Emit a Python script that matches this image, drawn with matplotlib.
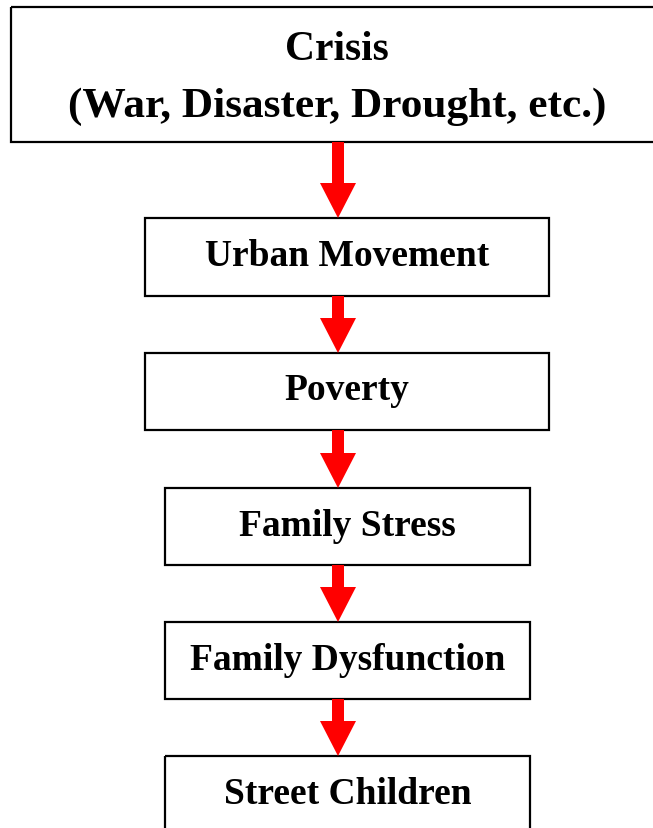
# Flowchart: from crisis to street children
import matplotlib
matplotlib.use("Agg")
import matplotlib.pyplot as plt
from matplotlib.patches import Rectangle, Polygon

# Box labels, top to bottom
labels = ["Crisis\n(War, Disaster, Drought, etc.)",
          "Urban Movement",
          "Poverty",
          "Family Stress",
          "Family Dysfunction",
          "Street Children"]

# Layout in pixels (left, right, top, bottom)
box_left = [11, 145, 145, 165, 165, 165]
box_right = [663, 549, 549, 530, 530, 530]
box_top = [8, 219, 354, 489, 623, 757]
box_bottom = [143, 297, 431, 566, 700, 835]
font_sizes = [30, 27, 27, 27, 27, 27]

arrow_x = 338
shaft_w = 12
head_w = 36
head_len = 35

W, H = 653, 829
fig = plt.figure(figsize=(W / 100, H / 100), dpi=100)
ax = fig.add_axes([0, 0, 1, 1])
ax.set_xlim(0, W)
ax.set_ylim(H, 0)
ax.axis("off")

for i, lab in enumerate(labels):
    l, r, t, b = box_left[i], box_right[i], box_top[i], box_bottom[i]
    ax.add_patch(Rectangle((l, t), r - l, b - t, fill=False,
                           edgecolor="black", linewidth=1.6, clip_on=False))
    cx = (l + r) / 2
    if i == 0:
        # two-line title box
        line1, line2 = lab.split("\n")
        ax.text(cx, 60, line1, ha="center", va="baseline",
                fontsize=font_sizes[i], fontweight="bold",
                family="Liberation Serif")
        ax.text(cx, 117, line2, ha="center", va="baseline",
                fontsize=font_sizes[i] + 1.2, fontweight="bold",
                family="Liberation Serif")
    else:
        cy = (t + b) / 2
        ax.text(cx, cy + 8, lab, ha="center", va="baseline",
                fontsize=font_sizes[i], fontweight="bold",
                family="Liberation Serif")

# red arrows between boxes
for i in range(len(labels) - 1):
    y0 = box_bottom[i]
    y1 = box_top[i + 1]
    yh = y1 - head_len
    pts = [(arrow_x - shaft_w / 2, y0), (arrow_x + shaft_w / 2, y0),
           (arrow_x + shaft_w / 2, yh), (arrow_x + head_w / 2, yh),
           (arrow_x, y1), (arrow_x - head_w / 2, yh),
           (arrow_x - shaft_w / 2, yh)]
    ax.add_patch(Polygon(pts, closed=True, facecolor="#ff0000",
                         edgecolor="none"))

fig.savefig("out.png", dpi=100, facecolor="white")
